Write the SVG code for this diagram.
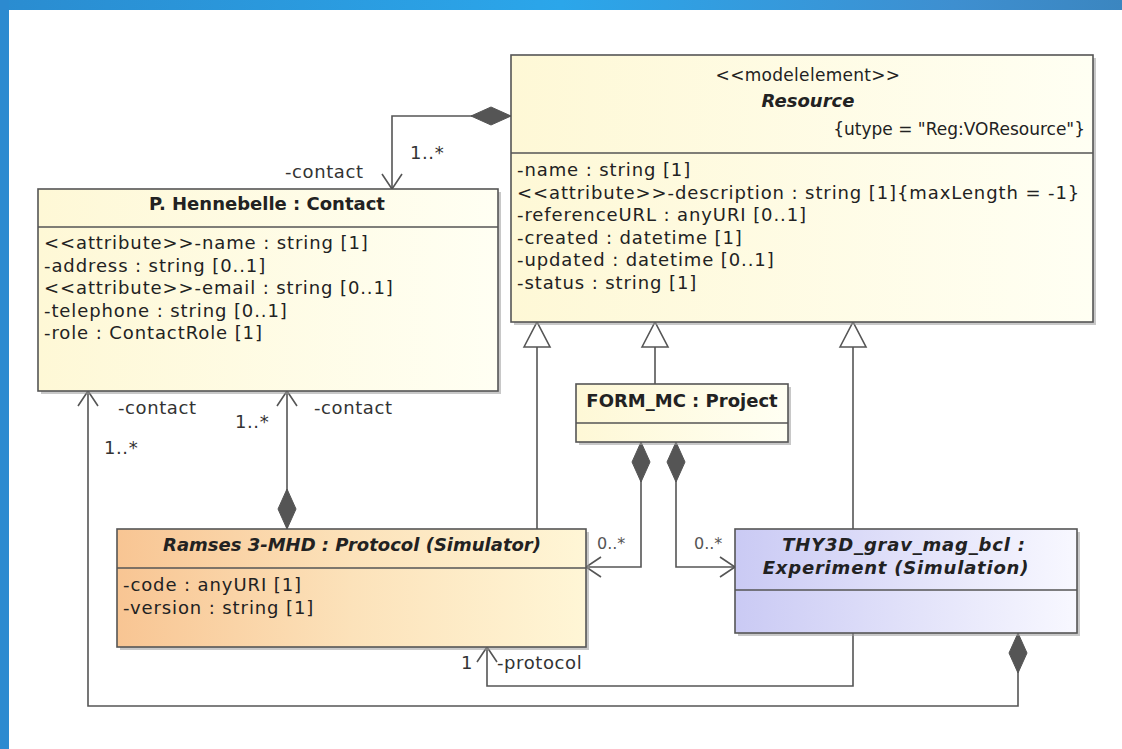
<svg xmlns="http://www.w3.org/2000/svg" width="1122" height="749" viewBox="0 0 1122 749">
<defs>
<style>
text{font-family:"DejaVu Sans","Liberation Sans",sans-serif;fill:#222}
.attr{font-size:18px;letter-spacing:0.9px}
.title{font-size:18px;font-weight:bold}
.ital{font-style:italic}
.lbl{font-size:18px;letter-spacing:0.6px;fill:#333}
.mult{font-size:16px;fill:#555}
.box{stroke:#555;stroke-width:1.6}
.shadow{fill:#9a9a9a;opacity:0.55}
.div{stroke:#555;stroke-width:1.4}
.conn{fill:none;stroke:#555;stroke-width:1.6}
</style>
<linearGradient id="gYellow" x1="0" y1="0" x2="1" y2="0">
<stop offset="0" stop-color="#FEF8D6"/><stop offset="1" stop-color="#FFFFF3"/>
</linearGradient>
<linearGradient id="gOrange" x1="0" y1="0" x2="1" y2="0">
<stop offset="0" stop-color="#F8C593"/><stop offset="0.5" stop-color="#FCE2BA"/><stop offset="1" stop-color="#FFF6D6"/>
</linearGradient>
<linearGradient id="gLav" x1="0" y1="0" x2="1" y2="0">
<stop offset="0" stop-color="#CACAF4"/><stop offset="1" stop-color="#F8F8FF"/>
</linearGradient>
<linearGradient id="gTop" x1="0" y1="0" x2="1" y2="0">
<stop offset="0" stop-color="#2A8CD0"/><stop offset="0.5" stop-color="#2BA6EA"/><stop offset="0.85" stop-color="#3E8FD0"/><stop offset="1" stop-color="#3B86C0"/>
</linearGradient>
<marker id="diamond" markerUnits="userSpaceOnUse" markerWidth="44" markerHeight="24" refX="0" refY="12" orient="auto" viewBox="0 0 44 24">
<path d="M0,12 L20,3 L40,12 L20,21 Z" fill="#555" stroke="#555" stroke-width="1"/>
</marker>
<marker id="open" markerUnits="userSpaceOnUse" markerWidth="20" markerHeight="24" refX="18" refY="12" orient="auto" viewBox="0 0 20 24">
<path d="M3,2 L18,12 L3,22" fill="none" stroke="#555" stroke-width="1.6"/>
</marker>
<marker id="tri" markerUnits="userSpaceOnUse" markerWidth="30" markerHeight="30" refX="27" refY="15" orient="auto" viewBox="0 0 30 30">
<path d="M2,2 L27,15 L2,28 Z" fill="#fff" stroke="#555" stroke-width="1.6"/>
</marker>
</defs>

<rect x="0" y="0" width="1122" height="749" fill="#fff"/>
<rect x="0" y="0" width="1122" height="10" fill="url(#gTop)"/>
<rect x="0" y="0" width="9" height="749" fill="#2C8AD0"/>

<g id="connectors">
<path class="conn" d="M511,116 L392,116 L392,189" marker-start="url(#diamond)" marker-end="url(#open)"/>
<path class="conn" d="M1018,633 L1018,706 L88,706 L88,391" marker-start="url(#diamond)" marker-end="url(#open)"/>
<path class="conn" d="M287,529 L287,391" marker-start="url(#diamond)" marker-end="url(#open)"/>
<path class="conn" d="M641,442 L641,567 L586,567" marker-start="url(#diamond)" marker-end="url(#open)"/>
<path class="conn" d="M676,442 L676,567 L735,567" marker-start="url(#diamond)" marker-end="url(#open)"/>
<path class="conn" d="M853,633 L853,686 L487,686 L487,647" marker-end="url(#open)"/>
<path class="conn" d="M537,529 L537,322" marker-end="url(#tri)"/>
<path class="conn" d="M655,384 L655,322" marker-end="url(#tri)"/>
<path class="conn" d="M853,529 L853,322" marker-end="url(#tri)"/>
<text class="lbl" x="285" y="178">-contact</text>
<text class="lbl" x="410" y="159">1..*</text>
<text class="lbl" x="118" y="414">-contact</text>
<text class="lbl" x="104" y="454">1..*</text>
<text class="lbl" x="235" y="428">1..*</text>
<text class="lbl" x="314" y="414">-contact</text>
<text class="mult" x="597" y="549">0..*</text>
<text class="mult" x="694" y="549">0..*</text>
<text class="lbl" x="461" y="669">1</text>
<text class="lbl" x="497" y="669">-protocol</text>
</g>

<g id="resource">
<rect class="shadow" x="514" y="58" width="582" height="267"/>
<rect class="box" x="511" y="55" width="582" height="267" fill="url(#gYellow)"/>
<line class="div" x1="511" y1="153" x2="1093" y2="153"/>
<text x="808" y="81" font-size="17" text-anchor="middle" letter-spacing="0.3">&lt;&lt;modelelement&gt;&gt;</text>
<text class="title ital" x="808" y="107" text-anchor="middle">Resource</text>
<text x="1085" y="135" font-size="17" text-anchor="end">{utype = "Reg:VOResource"}</text>
<text class="attr" x="517" y="176">-name : string [1]</text>
<text class="attr" x="517" y="199">&lt;&lt;attribute&gt;&gt;-description : string [1]{maxLength = -1}</text>
<text class="attr" x="517" y="221">-referenceURL : anyURI [0..1]</text>
<text class="attr" x="517" y="244">-created : datetime [1]</text>
<text class="attr" x="517" y="266">-updated : datetime [0..1]</text>
<text class="attr" x="517" y="289">-status : string [1]</text>
</g>

<g id="contact">
<rect class="shadow" x="41" y="192" width="460" height="202"/>
<rect class="box" x="38" y="189" width="460" height="202" fill="url(#gYellow)"/>
<line class="div" x1="38" y1="227" x2="498" y2="227"/>
<text class="title" x="267" y="210" text-anchor="middle">P. Hennebelle : Contact</text>
<text class="attr" x="44" y="249">&lt;&lt;attribute&gt;&gt;-name : string [1]</text>
<text class="attr" x="44" y="272">-address : string [0..1]</text>
<text class="attr" x="44" y="294">&lt;&lt;attribute&gt;&gt;-email : string [0..1]</text>
<text class="attr" x="44" y="317">-telephone : string [0..1]</text>
<text class="attr" x="44" y="339">-role : ContactRole [1]</text>
</g>

<g id="project">
<rect class="shadow" x="579" y="387" width="212" height="58"/>
<rect class="box" x="576" y="384" width="212" height="58" fill="url(#gYellow)"/>
<line class="div" x1="576" y1="423" x2="788" y2="423"/>
<text class="title" x="682" y="407" text-anchor="middle">FORM_MC : Project</text>
</g>

<g id="protocol">
<rect class="shadow" x="120" y="532" width="469" height="118"/>
<rect class="box" x="117" y="529" width="469" height="118" fill="url(#gOrange)"/>
<line class="div" x1="117" y1="568" x2="586" y2="568"/>
<text class="title ital" x="352" y="551" text-anchor="middle">Ramses 3-MHD : Protocol (Simulator)</text>
<text class="attr" x="123" y="591">-code : anyURI [1]</text>
<text class="attr" x="123" y="614">-version : string [1]</text>
</g>

<g id="experiment">
<rect class="shadow" x="738" y="532" width="342" height="104"/>
<rect class="box" x="735" y="529" width="342" height="104" fill="url(#gLav)"/>
<line class="div" x1="735" y1="590" x2="1077" y2="590"/>
<text class="title ital" x="904" y="551" text-anchor="middle" letter-spacing="0.8">THY3D_grav_mag_bcl :</text>
<text class="title ital" x="896" y="574" text-anchor="middle" letter-spacing="0.8">Experiment (Simulation)</text>
</g>
</svg>
